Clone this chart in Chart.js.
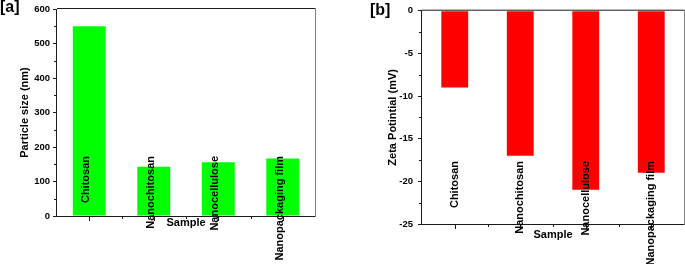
<!DOCTYPE html>
<html>
<head>
<meta charset="utf-8">
<script src="https://cdn.jsdelivr.net/npm/chart.js@4/dist/chart.umd.min.js"></script>
<style>
  body { margin: 0; background: #fff; }
  #wrap { position: relative; width: 685px; height: 264px; }
  canvas { position: absolute; top: 0; }
  #chartA { left: 0; }
  #chartB { left: 345px; }
</style>
</head>
<body>
<div id="wrap">
  <canvas id="chartA" width="340" height="264"></canvas>
  <canvas id="chartB" width="340" height="264"></canvas>
</div>
<script>
const categories = ["Chitosan", "Nanochitosan", "Nanocellulose", "Nanopackaging film"];
const particleSize = [550, 143, 156, 167];
const zetaPotential = [-9, -17, -21, -19];
const sizeTicks = { min: 0, max: 600, step: 100, minor: 50 };
const zetaTicks = { min: -25, max: 0, step: 5, minor: 2.5 };

const FONT = '"Liberation Sans", Arial, sans-serif';

// frame, minor ticks, x ticks, rotated category names, panel letter
const decoPlugin = {
  id: "deco",
  afterDatasetsDraw(chart, args, opts) {
    const { ctx, chartArea: a, scales } = chart;
    const x = scales.x;
    const y = scales.y;
    ctx.save();
    ctx.lineWidth = 1;

    // left + bottom axes, top frame
    ctx.strokeStyle = "#1a1a1a";
    ctx.beginPath();
    ctx.moveTo(a.left - 0.5, a.top);
    ctx.lineTo(a.left - 0.5, a.bottom + 0.5);
    ctx.lineTo(a.right, a.bottom + 0.5);
    ctx.moveTo(a.left, a.top - 0.5);
    ctx.lineTo(a.right, a.top - 0.5);
    ctx.stroke();
    // right frame is lighter
    ctx.strokeStyle = "#808080";
    ctx.beginPath();
    ctx.moveTo(a.right + 0.5, a.top - 1);
    ctx.lineTo(a.right + 0.5, a.bottom + 1);
    ctx.stroke();

    // y minor ticks
    ctx.strokeStyle = "#1a1a1a";
    ctx.beginPath();
    for (let v = opts.ticks.min + opts.ticks.minor; v < opts.ticks.max; v += opts.ticks.step) {
      const py = Math.round(y.getPixelForValue(v)) + 0.5;
      ctx.moveTo(a.left - 3, py);
      ctx.lineTo(a.left, py);
    }
    // x ticks at centres and between categories
    for (let i = 0; i < categories.length; i++) {
      const px = Math.round(x.getPixelForValue(i)) + 0.5;
      ctx.moveTo(px, a.bottom);
      ctx.lineTo(px, a.bottom + 5);
      if (i < categories.length - 1) {
        const mx = Math.round((x.getPixelForValue(i) + x.getPixelForValue(i + 1)) / 2) + 0.5;
        ctx.moveTo(mx, a.bottom);
        ctx.lineTo(mx, a.bottom + 3);
      }
    }
    ctx.stroke();

    // category names, vertical
    ctx.fillStyle = "#000";
    ctx.font = "bold 11px " + FONT;
    ctx.textAlign = "right";
    ctx.textBaseline = "middle";
    categories.forEach((c, i) => {
      ctx.save();
      ctx.translate(x.getPixelForValue(i) + opts.labelDx, opts.labelTop);
      ctx.rotate(-Math.PI / 2);
      ctx.fillText(c, 0, 0);
      ctx.restore();
    });

    // panel letter
    ctx.font = "bold 16px " + FONT;
    ctx.textAlign = "left";
    ctx.fillText(opts.letter, opts.letterX, opts.letterY);
    ctx.restore();
  },
};

function makeChart(id, values, color, ticks, yTitle, geo) {
  return new Chart(document.getElementById(id), {
    type: "bar",
    data: {
      labels: categories,
      datasets: [
        {
          data: values,
          backgroundColor: color,
          borderWidth: 0,
          categoryPercentage: 1,
          barPercentage: geo.barPct,
        },
      ],
    },
    options: {
      responsive: false,
      animation: false,
      devicePixelRatio: 1,
      layout: { padding: { left: 0, top: geo.top, right: geo.right, bottom: 0 } },
      plugins: {
        legend: { display: false },
        tooltip: { enabled: false },
        deco: geo.deco,
      },
      scales: {
        x: {
          grid: { display: false },
          border: { display: false },
          ticks: { display: false },
          title: {
            display: true,
            text: "Sample",
            color: "#000",
            font: { family: FONT, size: 11, weight: "bold" },
            padding: { top: 0, bottom: geo.xTitlePad },
          },
          afterFit: (s) => { s.height = geo.xHeight; },
        },
        y: {
          min: ticks.min,
          max: ticks.max,
          border: { display: false },
          grid: { drawOnChartArea: false, drawTicks: true, tickLength: 4, color: "#1a1a1a" },
          ticks: {
            stepSize: ticks.step,
            padding: geo.tickPad,
            color: "#000",
            font: { family: FONT, size: 9.5, weight: "bold" },
          },
          title: {
            display: true,
            text: yTitle,
            color: "#000",
            font: { family: FONT, size: 11, weight: "bold" },
            padding: { top: geo.yTitlePad, bottom: 0 },
          },
          afterFit: (s) => { s.width = geo.yWidth; },
        },
      },
    },
    plugins: [decoPlugin],
  });
}

makeChart("chartA", particleSize, "#00ff00", sizeTicks, "Particle size (nm)", {
  barPct: 0.51,
  top: 9,
  right: 25,
  yWidth: 57,
  xHeight: 48,
  xTitlePad: 34,
  tickPad: 3,
  yTitlePad: 18,
  deco: { ticks: sizeTicks, labelDx: -3, labelTop: 156, letter: "[a]", letterX: 0, letterY: 8 },
});

makeChart("chartB", zetaPotential, "#ff0000", zetaTicks, "Zeta Potintial (mV)", {
  barPct: 0.41,
  top: 10,
  right: 1,
  yWidth: 77,
  xHeight: 40,
  xTitlePad: 22,
  tickPad: 5,
  yTitlePad: 41,
  deco: { ticks: zetaTicks, labelDx: 0, labelTop: 161, letter: "[b]", letterX: 25, letterY: 11 },
});
</script>
</body>
</html>
